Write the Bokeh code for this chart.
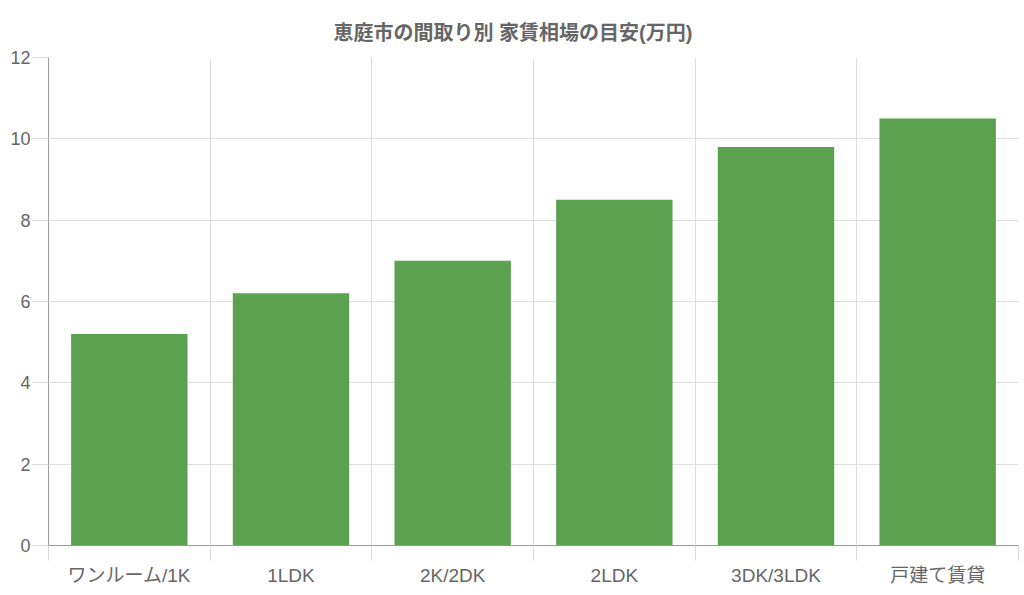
from bokeh.plotting import figure
from bokeh.models import FixedTicker, Range1d, ColumnDataSource
from bokeh.embed import file_html
from bokeh.resources import INLINE

categories = ["ワンルーム/1K", "1LDK", "2K/2DK", "2LDK", "3DK/3LDK", "戸建て賃貸"]
rents = [5.2, 6.2, 7.0, 8.5, 9.8, 10.5]
y_ticks = [0, 2, 4, 6, 8, 10, 12]

centers = [i + 0.5 for i in range(len(categories))]
bounds = list(range(len(categories) + 1))

FONT = "'Liberation Sans', 'Noto Sans CJK JP', sans-serif"
TXT = "#666666"

p = figure(width=1020, height=590, output_backend="svg", toolbar_location=None,
           x_range=Range1d(0, len(categories)), y_range=Range1d(0, 12),
           min_border_left=48, min_border_right=2, min_border_top=57, min_border_bottom=45)
p.outline_line_color = None

src = ColumnDataSource(dict(x=centers, top=rents))
p.vbar(x="x", top="top", bottom=0, width=0.72, source=src,
       fill_color="#5ba150", line_color=None)

p.title.text = "恵庭市の間取り別 家賃相場の目安(万円)"
p.title.align = "left"
p.title.text_font = FONT
p.title.text_font_size = "20px"
p.title.text_font_style = "bold"
p.title.text_color = TXT
p.title.offset = 285
p.title.standoff = 28

# x axis: labels at centres, ticks at category boundaries
p.xaxis.ticker = FixedTicker(ticks=centers, minor_ticks=bounds)
p.xaxis.major_label_overrides = {c: lab for c, lab in zip(centers, categories)}
p.xaxis.major_tick_out = 0
p.xaxis.major_tick_in = 0
p.xaxis.minor_tick_out = 15
p.xaxis.minor_tick_in = 0
p.xaxis.minor_tick_line_color = "#d9d9d9"
p.xaxis.axis_line_color = "#999999"
p.xaxis.major_label_standoff = 4
p.xaxis.major_label_text_font = FONT
p.xaxis.major_label_text_font_size = "19px"
p.xaxis.major_label_text_color = TXT

p.yaxis.ticker = FixedTicker(ticks=y_ticks)
p.yaxis.minor_tick_line_color = None
p.yaxis.major_tick_out = 16
p.yaxis.major_tick_in = 0
p.yaxis.major_tick_line_color = "#d9d9d9"
p.yaxis.axis_line_color = "#999999"
p.yaxis.major_label_standoff = 2
p.yaxis.major_label_text_font = FONT
p.yaxis.major_label_text_font_size = "18px"
p.yaxis.major_label_text_color = TXT

p.xgrid.ticker = FixedTicker(ticks=bounds)
p.xgrid.grid_line_color = "#dddddd"
p.ygrid.ticker = FixedTicker(ticks=y_ticks)
p.ygrid.grid_line_color = "#dddddd"

open("out.html", "w").write(file_html(p, INLINE))
